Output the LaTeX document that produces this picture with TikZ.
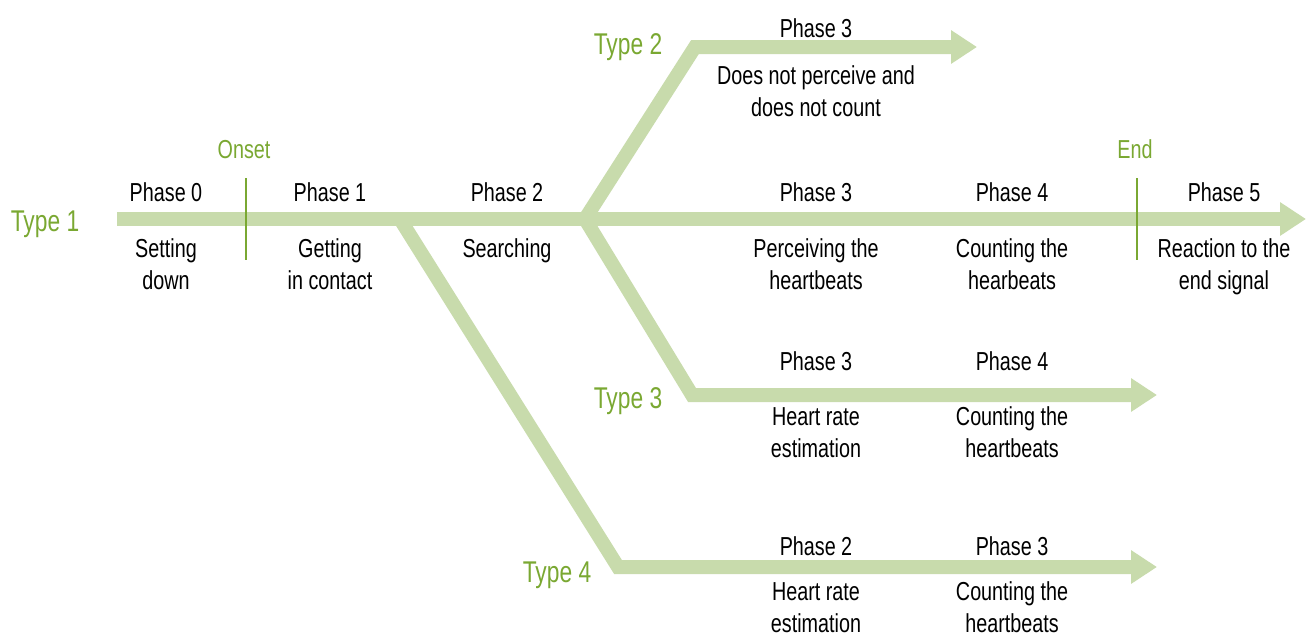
\documentclass[tikz,border=0pt]{standalone}
\usepackage{fontspec}
\setmainfont{Liberation Sans}[FakeStretch=0.76]
\usetikzlibrary{arrows.meta}
\definecolor{lgreen}{RGB}{200,219,172}
\definecolor{dgreen}{RGB}{122,168,50}
\begin{document}
\begin{tikzpicture}[x=1pt,y=-1pt,
  flow/.style={draw=lgreen,line width=14pt,line join=miter},
  flowarrow/.style={flow,-{Triangle[length=26pt,width=32pt]}},
  tickline/.style={draw=dgreen,line width=2.5pt},
  lbl/.style={font=\fontsize{26}{32}\selectfont,anchor=base,align=center,inner sep=0pt},
  evt/.style={lbl,text=dgreen},
  typ/.style={font=\fontsize{30}{34}\selectfont,text=dgreen,anchor=base,inner sep=0pt}]
\useasboundingbox (0,0) rectangle (1306,635);
% coordinates
\coordinate (s1) at (117,219);
\coordinate (e1) at (1306,219);
\coordinate (b4) at (400,219);
\coordinate (c4) at (618,567);
\coordinate (e4) at (1157,567);
\coordinate (b23) at (585,219);
\coordinate (c2) at (695,47);
\coordinate (e2) at (977,47);
\coordinate (c3) at (692,395);
\coordinate (e3) at (1157,395);
\coordinate (on1) at (246,178);
\coordinate (on2) at (246,260);
\coordinate (en1) at (1137,178);
\coordinate (en2) at (1137,260);
% flows
\draw[flowarrow] (b4) -- (c4) -- (e4);
\draw[flowarrow] (b23) -- (c3) -- (e3);
\draw[flowarrow] (b23) -- (c2) -- (e2);
\draw[flowarrow] (s1) -- (e1);
\draw[tickline] (on1) -- (on2);
\draw[tickline] (en1) -- (en2);
% labels
\node[typ] (t1) at (45,231) {Type 1};
\node[typ] (t2) at (628,54) {Type 2};
\node[typ] (t3) at (628,408) {Type 3};
\node[typ] (t4) at (557,582) {Type 4};
\node[evt] (onset) at (244,158) {Onset};
\node[evt] (endl) at (1135,158) {End};
% Type 1 row
\node[lbl] (p0) at (166,201) {Phase 0};
\node[lbl] (p1) at (330,201) {Phase 1};
\node[lbl] (p2) at (507,201) {Phase 2};
\node[lbl] (p3) at (816,201) {Phase 3};
\node[lbl] (p4) at (1012,201) {Phase 4};
\node[lbl] (p5) at (1224,201) {Phase 5};
\node[lbl] (d0) at (166,289) {Setting\\down};
\node[lbl] (d1) at (330,289) {Getting\\in contact};
\node[lbl] (d2) at (507,257) {Searching};
\node[lbl] (d3) at (816,289) {Perceiving the\\heartbeats};
\node[lbl] (d4) at (1012,289) {Counting the\\hearbeats};
\node[lbl] (d5) at (1224,289) {Reaction to the\\end signal};
% Type 2 row
\node[lbl] (q3) at (816,37) {Phase 3};
\node[lbl] (f3) at (816,116) {Does not perceive and\\does not count};
% Type 3 row
\node[lbl] (r3) at (816,370) {Phase 3};
\node[lbl] (r4) at (1012,370) {Phase 4};
\node[lbl] (g3) at (816,457) {Heart rate\\estimation};
\node[lbl] (g4) at (1012,457) {Counting the\\heartbeats};
% Type 4 row
\node[lbl] (u2) at (816,555) {Phase 2};
\node[lbl] (u3) at (1012,555) {Phase 3};
\node[lbl] (h2) at (816,632) {Heart rate\\estimation};
\node[lbl] (h3) at (1012,632) {Counting the\\heartbeats};
\end{tikzpicture}
\end{document}
